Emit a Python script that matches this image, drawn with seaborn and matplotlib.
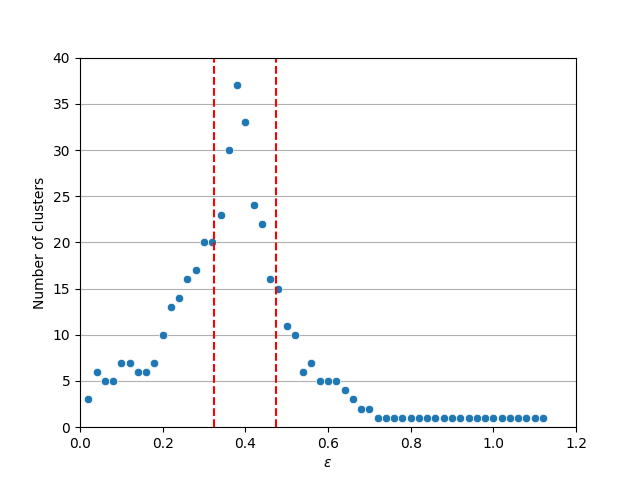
import numpy as np
import pandas as pd
import seaborn as sns
import matplotlib
matplotlib.use("Agg")
import matplotlib.pyplot as plt

eps = [round(0.02 * i, 2) for i in range(1, 57)]
n_clusters = [3, 6, 5, 5, 7, 7, 6, 6, 7, 10,
              13, 14, 16, 17, 20, 20, 23, 30, 37, 33,
              24, 22, 16, 15, 11, 10, 6, 7, 5, 5,
              5, 4, 3, 2, 2] + [1] * 21
eps_bounds = [0.324, 0.474]

df = pd.DataFrame({"eps": eps, "clusters": n_clusters})

fig, ax = plt.subplots(figsize=(6.4, 4.8), dpi=100)
ax.grid(axis="y")
ax.set_axisbelow(True)
sns.scatterplot(x="eps", y="clusters", data=df, ax=ax)
for b in eps_bounds:
    ax.axvline(b, color="red", linestyle="--")
ax.set_xlim(0, 1.2)
ax.set_ylim(0, 40)
ax.set_xlabel(r"$\varepsilon$")
ax.set_ylabel("Number of clusters")
fig.savefig("out.png")
